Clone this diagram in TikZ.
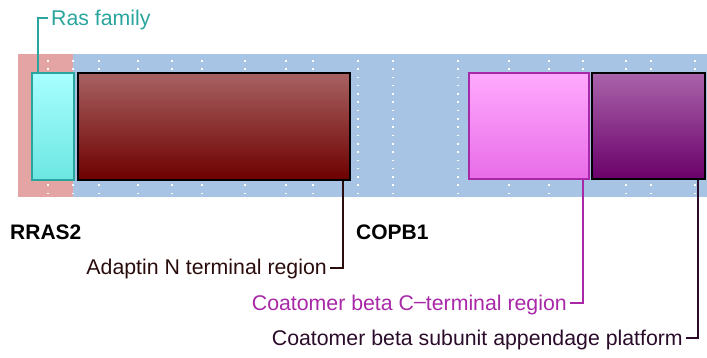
\documentclass[tikz,border=0pt]{standalone}
\usepackage{fontspec}
\setmainfont{Liberation Sans}
\usetikzlibrary{calc}

\definecolor{bandpink}{HTML}{E4A4A4}
\definecolor{bandblue}{HTML}{A8C4E4}
\definecolor{rasedge}{HTML}{2AA59E}
\definecolor{rastop}{HTML}{A8FFFF}
\definecolor{rasmid}{HTML}{96FEFE}
\definecolor{rasbot}{HTML}{6CE6E2}
\definecolor{adatop}{HTML}{A86262}
\definecolor{adabot}{HTML}{6E0000}
\definecolor{ctrtop}{HTML}{FFAAFF}
\definecolor{ctrmid}{HTML}{FF98FF}
\definecolor{ctrbot}{HTML}{E86CE8}
\definecolor{ctredge}{HTML}{A828A8}
\definecolor{apptop}{HTML}{AA64AA}
\definecolor{appbot}{HTML}{6A006A}
\definecolor{darkred}{HTML}{2A0C0C}
\definecolor{darkplum}{HTML}{2A0C2A}

\tikzset{
  domainbox/.style={rectangle, inner sep=0pt, anchor=north west, line width=1.6pt},
  lbl/.style={inner sep=0pt, anchor=base west, font=\fontsize{21.3}{25}\selectfont},
  genelbl/.style={inner sep=0pt, anchor=base west, font=\fontsize{21}{25}\selectfont\bfseries},
  leader/.style={line width=2.1pt},
  dotcol/.style={white, line width=1.6pt, dash pattern=on 1.6pt off 6.7pt}
}

\begin{document}
\begin{tikzpicture}[x=1pt, y=-1pt]
\useasboundingbox (0,0) rectangle (707,358);

% protein backbones
\fill[bandpink] (18,54) rectangle (73,197);
\fill[bandblue] (73,54) rectangle (707,197);

% dotted scale columns
\foreach \xx in {48,73,99,138,172,202,245,286,313,358,393,458,509,549,583,626,651,695}
  \draw[dotcol] (\xx,60) -- (\xx,196);

% domains
\node[domainbox, draw=rasedge, top color=rastop, middle color=rasmid, bottom color=rasbot,
      minimum width=42pt, minimum height=107pt] (ras) at (31,72) {};
\node[domainbox, draw=black, top color=adatop, bottom color=adabot,
      minimum width=272pt, minimum height=107pt] (ada) at (77,72) {};
\node[domainbox, draw=ctredge, top color=ctrtop, middle color=ctrmid, bottom color=ctrbot,
      minimum width=120pt, minimum height=106pt] (ctr) at (468,72) {};
\node[domainbox, draw=black, top color=apptop, bottom color=appbot,
      minimum width=113pt, minimum height=106pt] (app) at (591,72) {};

% gene names
\node[genelbl] (rras) at (10,240) {RRAS2};
\node[genelbl] (copb) at (356,240) {COPB1};

% domain labels
\node[lbl, text=rasedge] (raslbl) at (51,26) {Ras family};
\node[lbl, text=darkred, anchor=base east] (adalbl) at (327,275) {Adaptin N terminal region};
\node[lbl, text=ctredge, anchor=base east] (ctrlbl) at (567,310) {Coatomer beta C\raisebox{0.05em}{–}terminal region};
\node[lbl, text=darkplum, anchor=base east] (applbl) at (683,345) {Coatomer beta subunit appendage platform};

% leaders
\draw[leader, rasedge] ([xshift=7pt]ras.north west) |- ($(raslbl.base west)+(-3,-8)$);
\draw[leader, darkred] ([xshift=-8pt]ada.south east) |- ($(adalbl.base east)+(3,-7)$);
\draw[leader, ctredge] ([xshift=-7pt]ctr.south east) |- ($(ctrlbl.base east)+(3,-7)$);
\draw[leader, darkplum] ([xshift=-8pt]app.south east) |- ($(applbl.base east)+(3,-7)$);
\end{tikzpicture}
\end{document}
